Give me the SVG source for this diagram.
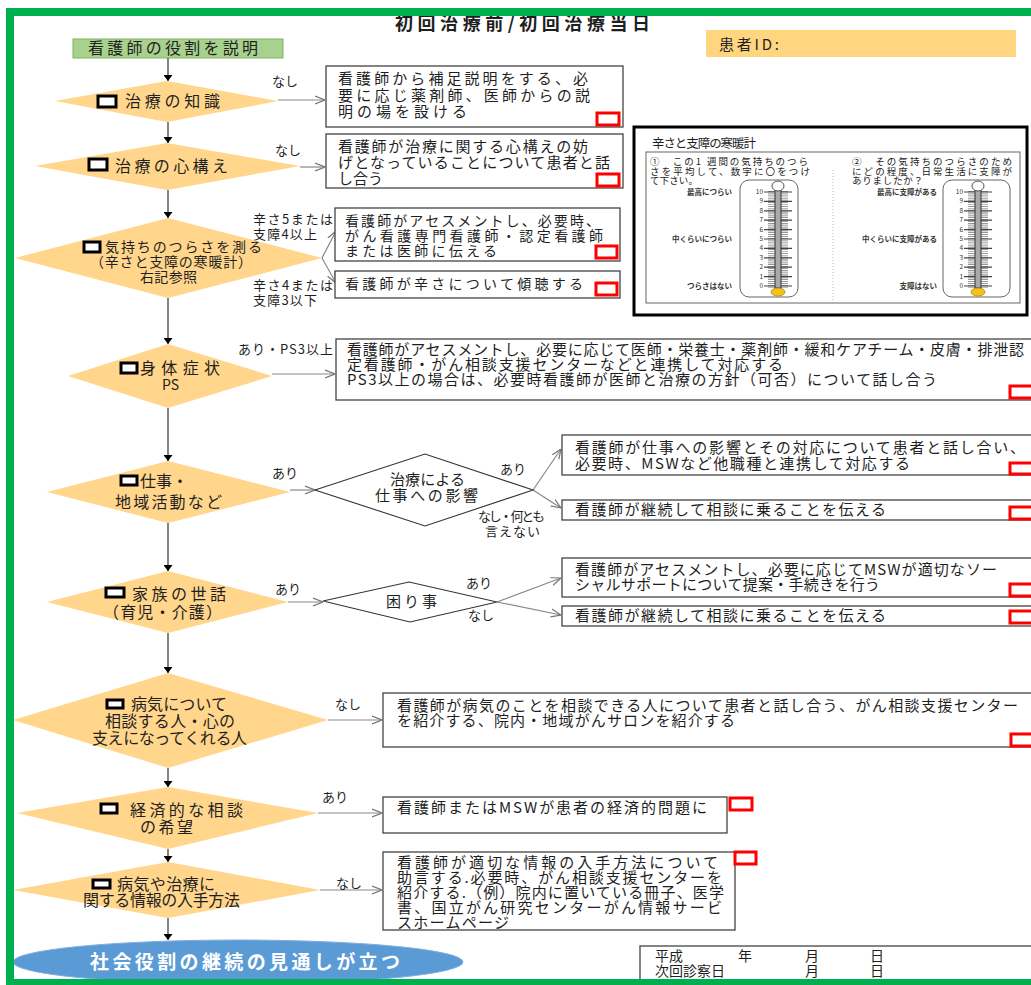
<svg xmlns="http://www.w3.org/2000/svg" width="1031" height="985" viewBox="0 0 1031 985">
<style>
  text { font-family: "Noto Sans CJK JP", "Noto Sans", sans-serif; fill: #1f1f1f; }
  .bx { fill: #fff; stroke: #444; stroke-width: 1.3; }
  .red { fill: #fff; stroke: #f00; stroke-width: 3; }
  .dia { fill: #FFD68C; stroke: none; }
  .sdia { fill: #fff; stroke: #333; stroke-width: 1.1; }
  .chk { fill: #fff; stroke: #000; stroke-width: 3; }
  .t { font-size: 15px; }
  .s { font-size: 14px; }
  .d { font-size: 16px; }
  .lb { font-size: 13px; }
  .down { fill: none; stroke: #666; stroke-width: 1.6; marker-end: url(#solid); }
  .side { fill: none; stroke: #888; stroke-width: 1.2; marker-end: url(#open); }
  .th { font-size: 7.5px; font-weight: bold; fill: #333; text-anchor: end; }
  .num { font-size: 6.5px; fill: #333; text-anchor: end; }
  .q { font-size: 9.5px; fill: #222; }
</style>
<defs>
  <marker id="solid" viewBox="0 0 6 9" refX="6" refY="4.5" markerWidth="6" markerHeight="9" markerUnits="userSpaceOnUse" orient="auto">
    <path d="M0,0 L6,4.5 L0,9 z" fill="#000"/>
  </marker>
  <marker id="open" viewBox="0 0 10 10" refX="10" refY="5" markerWidth="10" markerHeight="10" markerUnits="userSpaceOnUse" orient="auto">
    <path d="M0,1 L10,5 L0,9" fill="none" stroke="#777" stroke-width="1.2"/>
  </marker>
</defs>

<rect x="0" y="0" width="1031" height="985" fill="#fff"/>

<!-- header -->
<text x="395" y="30" font-size="18" font-weight="bold" textLength="255" lengthAdjust="spacing">初回治療前/初回治療当日</text>

<g id="start">
  <rect x="73" y="39" width="210" height="19" fill="#A9D18E" stroke="#7FB35F" stroke-width="1"/>
  <text class="d" x="88" y="54" textLength="170" lengthAdjust="spacing">看護師の役割を説明</text>
</g>

<g id="patient-id">
  <rect x="706" y="30" width="310" height="27" fill="#FFD57F"/>
  <text x="719" y="50" font-size="15" textLength="60" lengthAdjust="spacing">患者ID:</text>
</g>

<!-- connectors -->
<g id="connectors">
  <path class="down" d="M168,58 V81"/>
  <path class="down" d="M168,122 V143"/>
  <path class="down" d="M168,190 V218"/>
  <path class="down" d="M168,298 V344"/>
  <path class="down" d="M168,408 V461"/>
  <path class="down" d="M168,523 V571"/>
  <path class="down" d="M168,633 V673"/>
  <path class="down" d="M168,768 V787"/>
  <path class="down" d="M168,849 V862"/>
  <path class="down" d="M168,918 V940"/>

  <path class="side" d="M278,100 H325"/>
  <path class="side" d="M300,167 H325"/>
  <path class="side" d="M322,258 L336,231"/>
  <path class="side" d="M322,258 L336,283"/>
  <path class="side" d="M272,374 H335"/>
  <path class="side" d="M290,490 H315"/>
  <path class="side" d="M533,490 L561,449"/>
  <path class="side" d="M533,490 L561,508"/>
  <path class="side" d="M288,602 H323"/>
  <path class="side" d="M497,602 L561,578"/>
  <path class="side" d="M497,602 L561,615"/>
  <path class="side" d="M328,720 H382"/>
  <path class="side" d="M318,813 H382"/>
  <path class="side" d="M320,890 H382"/>

  <text class="lb" x="272" y="86">なし</text>
  <text class="lb" x="275" y="155">なし</text>
  <text class="lb" x="253" y="224" textLength="80" lengthAdjust="spacing">辛さ5または</text>
  <text class="lb" x="253" y="239" textLength="64" lengthAdjust="spacing">支障4以上</text>
  <text class="lb" x="253" y="290" textLength="80" lengthAdjust="spacing">辛さ4または</text>
  <text class="lb" x="253" y="305" textLength="64" lengthAdjust="spacing">支障3以下</text>
  <text class="lb" x="238" y="354" textLength="95" lengthAdjust="spacing">あり・PS3以上</text>
  <text class="lb" x="272" y="478">あり</text>
  <text class="lb" x="500" y="474">あり</text>
  <text class="lb" x="478" y="521" textLength="67" lengthAdjust="spacing">なし・何とも</text>
  <text class="lb" x="485" y="536" textLength="55" lengthAdjust="spacing">言えない</text>
  <text class="lb" x="275" y="594">あり</text>
  <text class="lb" x="466" y="588">あり</text>
  <text class="lb" x="468" y="620">なし</text>
  <text class="lb" x="335" y="709">なし</text>
  <text class="lb" x="322" y="802">あり</text>
  <text class="lb" x="336" y="888">なし</text>
</g>

<!-- decisions -->
<g id="q-knowledge">
  <polygon class="dia" points="55,101 167,81 278,101 167,122"/>
  <rect class="chk" x="98" y="96" width="18" height="11"/>
  <text class="d" x="125" y="107" textLength="95" lengthAdjust="spacing">治療の知識</text>
</g>
<g id="q-readiness">
  <polygon class="dia" points="35,166 167,143 300,166 167,190"/>
  <rect class="chk" x="89" y="159" width="18" height="11"/>
  <text class="d" x="115" y="172" textLength="113" lengthAdjust="spacing">治療の心構え</text>
</g>
<g id="q-distress">
  <polygon class="dia" points="15,258 168,218 322,258 168,298"/>
  <rect class="chk" x="84" y="242" width="16" height="10"/>
  <text class="s" x="105" y="252" textLength="157" lengthAdjust="spacing">気持ちのつらさを測る</text>
  <text class="s" x="90" y="267" textLength="162" lengthAdjust="spacing">（辛さと支障の寒暖計）</text>
  <text class="s" x="140" y="282" textLength="57" lengthAdjust="spacing">右記参照</text>
</g>
<g id="q-symptoms">
  <polygon class="dia" points="68,376 168,344 272,376 168,408"/>
  <rect class="chk" x="121" y="363" width="16" height="10"/>
  <text class="d" x="140" y="374" textLength="80" lengthAdjust="spacing">身体症状</text>
  <text class="s" x="162" y="390">PS</text>
</g>
<g id="q-work">
  <polygon class="dia" points="47,492 168,461 290,492 168,523"/>
  <rect class="chk" x="121" y="476" width="16" height="9"/>
  <text class="d" x="140" y="487" textLength="48" lengthAdjust="spacing">仕事・</text>
  <text class="d" x="115" y="508" textLength="107" lengthAdjust="spacing">地域活動など</text>
</g>
<g id="q-work-impact">
  <polygon class="sdia" points="315,490 425,454 533,490 425,526"/>
  <text class="t" x="390" y="485" textLength="75" lengthAdjust="spacing">治療による</text>
  <text class="t" x="375" y="501" textLength="103" lengthAdjust="spacing">仕事への影響</text>
</g>
<g id="q-family">
  <polygon class="dia" points="47,602 168,571 288,602 168,633"/>
  <rect class="chk" x="106" y="588" width="18" height="9"/>
  <text class="d" x="132" y="600" textLength="94" lengthAdjust="spacing">家族の世話</text>
  <text class="d" x="103" y="618" textLength="119" lengthAdjust="spacing">（育児・介護）</text>
</g>
<g id="q-trouble">
  <polygon class="sdia" points="323,601 409,582 497,602 410,622"/>
  <text class="t" x="386" y="607" textLength="51" lengthAdjust="spacing">困り事</text>
</g>
<g id="q-support">
  <polygon class="dia" points="13,720 168,673 328,720 168,768"/>
  <rect class="chk" x="107" y="700" width="16" height="8"/>
  <text class="d" x="131" y="710" textLength="96" lengthAdjust="spacing">病気について</text>
  <text class="d" x="105" y="727" textLength="130" lengthAdjust="spacing">相談する人・心の</text>
  <text class="d" x="92" y="744" textLength="155" lengthAdjust="spacing">支えになってくれる人</text>
</g>
<g id="q-finance">
  <polygon class="dia" points="17,813 168,787 318,813 168,849"/>
  <rect class="chk" x="101" y="804" width="16" height="9"/>
  <text class="d" x="130" y="816" textLength="113" lengthAdjust="spacing">経済的な相談</text>
  <text class="d" x="140" y="833" textLength="53" lengthAdjust="spacing">の希望</text>
</g>
<g id="q-info">
  <polygon class="dia" points="13,890 168,862 320,890 168,918"/>
  <rect class="chk" x="93" y="880" width="17" height="8"/>
  <text class="d" x="117" y="890" textLength="98" lengthAdjust="spacing">病気や治療に</text>
  <text class="d" x="83" y="906" textLength="157" lengthAdjust="spacing">関する情報の入手方法</text>
</g>

<!-- actions -->
<g id="a-knowledge">
  <rect class="bx" x="326" y="66" width="297" height="61"/>
  <text class="t" x="338" y="84" textLength="250" lengthAdjust="spacing">看護師から補足説明をする、必</text>
  <text class="t" x="338" y="101" textLength="252" lengthAdjust="spacing">要に応じ薬剤師、医師からの説</text>
  <text class="t" x="338" y="117" textLength="129" lengthAdjust="spacing">明の場を設ける</text>
  <rect class="red" x="597" y="113" width="22" height="12"/>
</g>
<g id="a-readiness">
  <rect class="bx" x="326" y="134" width="297" height="54"/>
  <text class="t" x="338" y="152" textLength="250" lengthAdjust="spacing">看護師が治療に関する心構えの妨</text>
  <text class="t" x="338" y="168" textLength="272" lengthAdjust="spacing">げとなっていることについて患者と話</text>
  <text class="t" x="338" y="184">し合う</text>
  <rect class="red" x="597" y="174" width="22" height="12"/>
</g>
<g id="a-distress-high">
  <rect class="bx" x="335" y="208" width="285" height="53"/>
  <text class="s" x="345" y="226" textLength="255" lengthAdjust="spacing">看護師がアセスメントし、必要時、</text>
  <text class="s" x="345" y="241" textLength="258" lengthAdjust="spacing">がん看護専門看護師・認定看護師</text>
  <text class="s" x="345" y="256" textLength="152" lengthAdjust="spacing">または医師に伝える</text>
  <rect class="red" x="596" y="246" width="21" height="12"/>
</g>
<g id="a-distress-low">
  <rect class="bx" x="335" y="271" width="285" height="27"/>
  <text class="s" x="345" y="289" textLength="238" lengthAdjust="spacing">看護師が辛さについて傾聴する</text>
  <rect class="red" x="596" y="283" width="21" height="12"/>
</g>
<g id="a-symptoms">
  <rect class="bx" x="336" y="339" width="710" height="61"/>
  <text class="t" x="347" y="355" textLength="677" lengthAdjust="spacing">看護師がアセスメントし、必要に応じて医師・栄養士・薬剤師・緩和ケアチーム・皮膚・排泄認</text>
  <text class="t" x="347" y="370" textLength="436" lengthAdjust="spacing">定看護師・がん相談支援センターなどと連携して対応する</text>
  <text class="t" x="347" y="385" textLength="590" lengthAdjust="spacing">PS3以上の場合は、必要時看護師が医師と治療の方針（可否）について話し合う</text>
  <rect class="red" x="1010" y="386" width="30" height="12"/>
</g>
<g id="a-work-yes">
  <rect class="bx" x="562" y="435" width="480" height="40"/>
  <text class="t" x="575" y="453" textLength="450" lengthAdjust="spacing">看護師が仕事への影響とその対応について患者と話し合い、</text>
  <text class="t" x="575" y="469" textLength="335" lengthAdjust="spacing">必要時、MSWなど他職種と連携して対応する</text>
  <rect class="red" x="1010" y="463" width="30" height="11"/>
</g>
<g id="a-work-no">
  <rect class="bx" x="562" y="500" width="480" height="20"/>
  <text class="t" x="575" y="515" textLength="311" lengthAdjust="spacing">看護師が継続して相談に乗ることを伝える</text>
  <rect class="red" x="1010" y="507" width="30" height="12"/>
</g>
<g id="a-family-yes">
  <rect class="bx" x="562" y="558" width="480" height="39"/>
  <text class="t" x="575" y="575" textLength="422" lengthAdjust="spacing">看護師がアセスメントし、必要に応じてMSWが適切なソー</text>
  <text class="t" x="575" y="590" textLength="305" lengthAdjust="spacing">シャルサポートについて提案・手続きを行う</text>
  <rect class="red" x="1010" y="584" width="30" height="12"/>
</g>
<g id="a-family-no">
  <rect class="bx" x="562" y="606" width="480" height="20"/>
  <text class="t" x="575" y="621" textLength="311" lengthAdjust="spacing">看護師が継続して相談に乗ることを伝える</text>
  <rect class="red" x="1010" y="611" width="30" height="12"/>
</g>
<g id="a-support">
  <rect class="bx" x="383" y="693" width="660" height="54"/>
  <text class="t" x="397" y="711" textLength="621" lengthAdjust="spacing">看護師が病気のことを相談できる人について患者と話し合う、がん相談支援センター</text>
  <text class="t" x="397" y="726" textLength="338" lengthAdjust="spacing">を紹介する、院内・地域がんサロンを紹介する</text>
  <rect class="red" x="1011" y="734" width="30" height="12"/>
</g>
<g id="a-finance">
  <rect class="bx" x="383" y="797" width="344" height="36"/>
  <text class="t" x="397" y="813" textLength="310" lengthAdjust="spacing">看護師またはMSWが患者の経済的問題に</text>
  <rect class="red" x="730" y="798" width="22" height="12"/>
</g>
<g id="a-info">
  <rect class="bx" x="383" y="852" width="352" height="78"/>
  <text class="t" x="397" y="868" textLength="321" lengthAdjust="spacing">看護師が適切な情報の入手方法について</text>
  <text class="t" x="397" y="883" textLength="325" lengthAdjust="spacing">助言する.必要時、がん相談支援センターを</text>
  <text class="t" x="397" y="898" textLength="327" lengthAdjust="spacing">紹介する.（例）院内に置いている冊子、医学</text>
  <text class="t" x="397" y="913" textLength="325" lengthAdjust="spacing">書、国立がん研究センターがん情報サービ</text>
  <text class="t" x="397" y="928" textLength="112" lengthAdjust="spacing">スホームページ</text>
  <rect class="red" x="735" y="852" width="21" height="12"/>
</g>

<g id="goal">
  <ellipse cx="238" cy="962" rx="225" ry="22" fill="#5B9BD5" stroke="#7FAEDD" stroke-width="1"/>
  <text x="90" y="969" font-size="19" font-weight="bold" style="fill:#fff" textLength="310" lengthAdjust="spacing">社会役割の継続の見通しが立つ</text>
</g>

<g id="date">
  <rect class="bx" x="640" y="946" width="400" height="45"/>
  <text class="s" x="655" y="961">平成</text>
  <text class="s" x="738" y="961">年</text>
  <text class="s" x="805" y="961">月</text>
  <text class="s" x="870" y="961">日</text>
  <text class="s" x="655" y="976" textLength="70" lengthAdjust="spacing">次回診察日</text>
  <text class="s" x="805" y="976">月</text>
  <text class="s" x="870" y="976">日</text>
</g>

<!-- distress thermometer reference panel -->
<g id="thermometer">
  <rect x="634" y="127" width="393" height="188" fill="#fff" stroke="#000" stroke-width="3"/>
  <text x="652" y="148" font-size="12.5" textLength="104" lengthAdjust="spacing">辛さと支障の寒暖計</text>
  <rect x="646" y="152" width="374" height="151" fill="none" stroke="#666" stroke-width="1"/>
  <line x1="833" y1="170" x2="833" y2="300" stroke="#bbb" stroke-width="1" stroke-dasharray="1 2"/>

  <text class="q" x="650" y="165" textLength="158" lengthAdjust="spacing">①　この1 週間の気持ちのつら</text>
  <text class="q" x="650" y="174.5" textLength="160" lengthAdjust="spacing">さを平均して、数字に〇をつけ</text>
  <text class="q" x="650" y="184" textLength="48" lengthAdjust="spacing">て下さい。</text>
  <text class="q" x="852" y="165" textLength="160" lengthAdjust="spacing">②　その気持ちのつらさのため</text>
  <text class="q" x="852" y="174.5" textLength="160" lengthAdjust="spacing">にどの程度、日常生活に支障が</text>
  <text class="q" x="852" y="184" textLength="71" lengthAdjust="spacing">ありましたか？</text>

  <g id="scale-left">
    <rect x="740" y="180" width="58" height="117" rx="9" fill="#fff" stroke="#666" stroke-width="1"/>
    <line x1="778" y1="191" x2="778" y2="288" stroke="#777" stroke-width="20" stroke-dasharray="0.7 1.18"/>
    <line x1="778" y1="191.4" x2="778" y2="287" stroke="#444" stroke-width="28" stroke-dasharray="1.2 8.2"/>
    <rect x="775" y="190" width="6" height="98" fill="#aaa" stroke="#333" stroke-width="1"/>
    <ellipse cx="778" cy="186" rx="6" ry="5" fill="#fff" stroke="#555" stroke-width="1"/>
    <ellipse cx="778" cy="292" rx="7" ry="4" fill="#F2C21B" stroke="#B8860B" stroke-width="0.8"/>
    <text class="num" x="763" y="194">10</text>
    <text class="num" x="763" y="203.4">9</text>
    <text class="num" x="763" y="212.8">8</text>
    <text class="num" x="763" y="222.2">7</text>
    <text class="num" x="763" y="231.6">6</text>
    <text class="num" x="763" y="241">5</text>
    <text class="num" x="763" y="250.4">4</text>
    <text class="num" x="763" y="259.8">3</text>
    <text class="num" x="763" y="269.2">2</text>
    <text class="num" x="763" y="278.6">1</text>
    <text class="num" x="763" y="288">0</text>
    <text class="th" x="732" y="195">最高につらい</text>
    <text class="th" x="732" y="242">中くらいにつらい</text>
    <text class="th" x="732" y="289">つらさはない</text>
  </g>
  <g id="scale-right">
    <rect x="943" y="180" width="67" height="117" rx="9" fill="#fff" stroke="#666" stroke-width="1"/>
    <line x1="978" y1="191" x2="978" y2="288" stroke="#777" stroke-width="20" stroke-dasharray="0.7 1.18"/>
    <line x1="978" y1="191.4" x2="978" y2="287" stroke="#444" stroke-width="28" stroke-dasharray="1.2 8.2"/>
    <rect x="975" y="190" width="6" height="98" fill="#aaa" stroke="#333" stroke-width="1"/>
    <ellipse cx="978" cy="186" rx="6" ry="5" fill="#fff" stroke="#555" stroke-width="1"/>
    <ellipse cx="978" cy="292" rx="7" ry="4" fill="#F2C21B" stroke="#B8860B" stroke-width="0.8"/>
    <text class="num" x="963" y="194">10</text>
    <text class="num" x="963" y="203.4">9</text>
    <text class="num" x="963" y="212.8">8</text>
    <text class="num" x="963" y="222.2">7</text>
    <text class="num" x="963" y="231.6">6</text>
    <text class="num" x="963" y="241">5</text>
    <text class="num" x="963" y="250.4">4</text>
    <text class="num" x="963" y="259.8">3</text>
    <text class="num" x="963" y="269.2">2</text>
    <text class="num" x="963" y="278.6">1</text>
    <text class="num" x="963" y="288">0</text>
    <text class="th" x="937" y="195">最高に支障がある</text>
    <text class="th" x="937" y="242">中くらいに支障がある</text>
    <text class="th" x="937" y="289">支障はない</text>
  </g>
</g>

<!-- page frame -->
<rect x="10" y="12" width="1040" height="971" fill="none" stroke="#00B050" stroke-width="8"/>
</svg>
